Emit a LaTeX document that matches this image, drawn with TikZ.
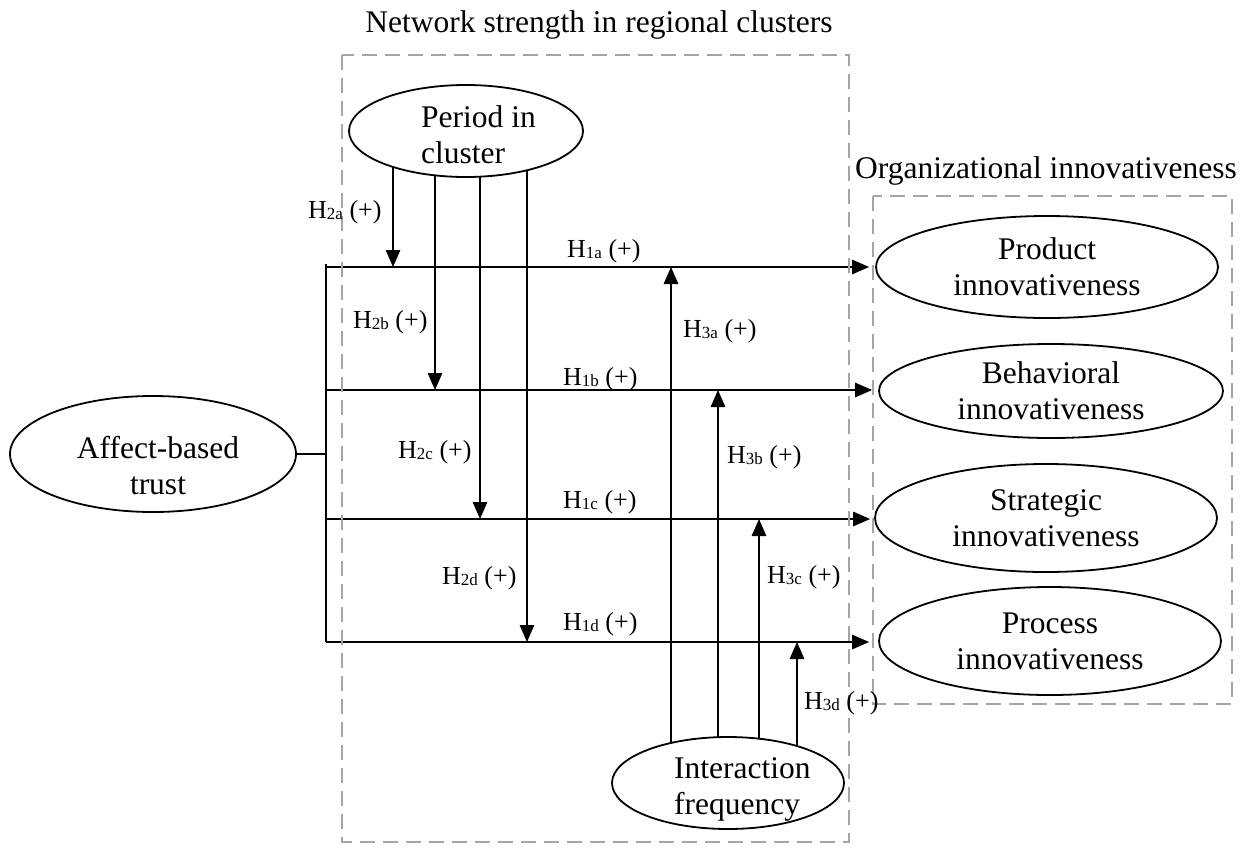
\documentclass[tikz,border=0pt]{standalone}
\usepackage{fontspec}
\setmainfont{Liberation Serif}
\usetikzlibrary{arrows.meta,shapes.geometric}
\pgfdeclarelayer{bg}
\pgfsetlayers{bg,main}
\newcommand{\mainf}{\fontsize{31.5}{36}\selectfont}
\newcommand{\lblf}{\fontsize{26}{30}\selectfont}
\newcommand{\hy}[1]{H\raisebox{-1.5pt}{\fontsize{17}{17}\selectfont #1} (+)}
\definecolor{boxgray}{RGB}{165,165,165}
\begin{document}
\begin{tikzpicture}[x=1pt,y=-1pt,
  ell/.style={draw, ellipse, line width=1.8pt, inner sep=0pt, fill=white, align=center, font=\mainf},
  txt/.style={font=\mainf, inner sep=0pt},
  lbl/.style={font=\lblf, inner sep=0pt, anchor=base west},
  conn/.style={line width=1.3pt},
  arr/.style={conn, -{Triangle[length=17pt,width=14.5pt]}},
  dashbox/.style={draw=boxgray, line width=2.5pt, dash pattern=on 15pt off 8pt}]
\useasboundingbox (0,0) rectangle (1255,855);

% dashed group boxes and titles
\draw[dashbox] (342,55) rectangle (849,842);
\draw[dashbox] (873,196) rectangle (1232,704);
\node[txt, anchor=base] (nettitle) at (599,32) {Network strength in regional clusters};
\node[txt, anchor=base] (orgtitle) at (1046,178) {Organizational innovativeness};

% ellipses
\node[ell, minimum width=286, minimum height=116] (affect) at (153,454) {};
\node[txt, align=center] (affecttxt) at (158,466) {Affect-based\\trust};
\node[ell, minimum width=234, minimum height=92] (period) at (466,131) {};
\node[txt, align=left, anchor=west] (periodtxt) at (421,135) {Period in\\cluster};
\node[ell, minimum width=232, minimum height=92] (inter) at (728,783) {};
\node[txt, align=left, anchor=west] (intertxt) at (674,789) {Interaction\\frequency};
\node[ell, minimum width=342, minimum height=102] (product) at (1047,267) {Product\\innovativeness};
\node[ell, minimum width=344, minimum height=94] (behav) at (1051,391) {Behavioral\\innovativeness};
\node[ell, minimum width=342, minimum height=108] (strat) at (1046,518) {Strategic\\innovativeness};
\node[ell, minimum width=342, minimum height=108] (proc) at (1050,641) {Process\\innovativeness};

% coordinates on the bus and lines
\coordinate (bj) at (326,454);
\coordinate (bt) at (326,264);
\coordinate (c1) at (326,267);
\coordinate (c2) at (326,390);
\coordinate (c3) at (326,519);
\coordinate (c4) at (326,642);
\coordinate (a1) at (393,267);
\coordinate (a2) at (435,390);
\coordinate (a3) at (480,519);
\coordinate (a4) at (527,642);
\coordinate (b1) at (671,267);
\coordinate (b2) at (718,390);
\coordinate (b3) at (759,519);
\coordinate (b4) at (797,642);

\begin{pgfonlayer}{bg}
\draw[conn] (affect.east) -- (bj);
\draw[conn] (bt) -- (c4);
\draw[arr, shorten >=6pt] (c1) -- (c1 -| product.west);
\draw[arr, shorten >=6pt] (c2) -- (c2 -| behav.west);
\draw[arr, shorten >=4pt] (c3) -- (c3 -| strat.west);
\draw[arr, shorten >=9pt] (c4) -- (c4 -| proc.west);
\draw[arr] (period.center -| a1) -- (a1);
\draw[arr] (period.center -| a2) -- (a2);
\draw[arr] (period.center -| a3) -- (a3);
\draw[arr] (period.center -| a4) -- (a4);
\draw[arr] (inter.center -| b1) -- (b1);
\draw[arr] (inter.center -| b2) -- (b2);
\draw[arr] (inter.center -| b3) -- (b3);
\draw[arr] (inter.center -| b4) -- (b4);
\end{pgfonlayer}

% hypothesis labels
\node[lbl] (h1a) at (567,257) {\hy{1a}};
\node[lbl] (h1b) at (563,385) {\hy{1b}};
\node[lbl] (h1c) at (563,508) {\hy{1c}};
\node[lbl] (h1d) at (563,630) {\hy{1d}};
\node[lbl] (h2a) at (308,218) {\hy{2a}};
\node[lbl] (h2b) at (353,328) {\hy{2b}};
\node[lbl] (h2c) at (398,458) {\hy{2c}};
\node[lbl] (h2d) at (442,584) {\hy{2d}};
\node[lbl] (h3a) at (683,337) {\hy{3a}};
\node[lbl] (h3b) at (727,463) {\hy{3b}};
\node[lbl] (h3c) at (767,583) {\hy{3c}};
\node[lbl] (h3d) at (804,709) {\hy{3d}};
\end{tikzpicture}
\end{document}
